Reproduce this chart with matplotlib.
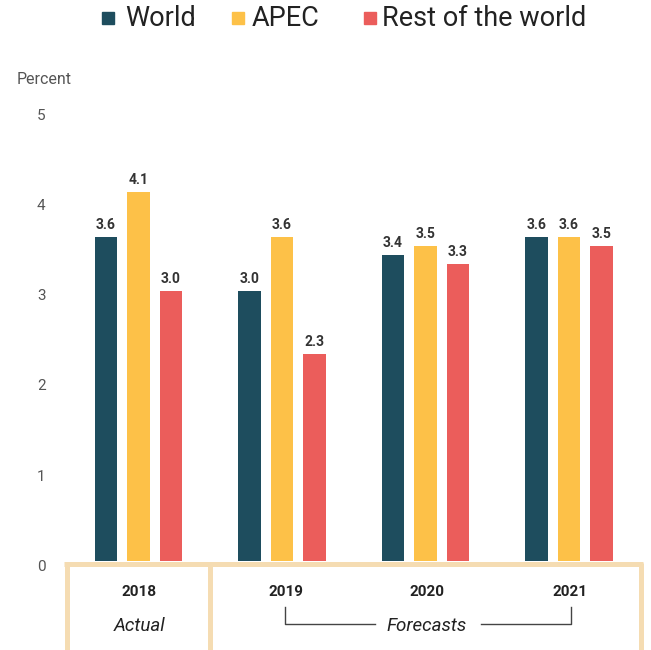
import numpy as np
import matplotlib
matplotlib.use("Agg")
import matplotlib.pyplot as plt
from matplotlib.patches import Rectangle
from matplotlib.transforms import ScaledTranslation

plt.rcParams['font.family'] = ['Roboto', 'DejaVu Sans']

years = ['2018', '2019', '2020', '2021']
series = ['World', 'APEC', 'Rest of the world']
world = [3.6, 3.0, 3.4, 3.6]
apec = [4.1, 3.6, 3.5, 3.6]
rest = [3.0, 2.3, 3.3, 3.5]
colors = ['#1E4D5E', '#FDC148', '#EB5D5B']

W, H = 651, 650
fig = plt.figure(figsize=(W / 100, H / 100), dpi=100)

def fx(px): return px / W
def fy(py): return (H - py) / H

# axes: y 0 at px 561.4, 5 at px 110.4; group centres 138.5 + 143.5*i
y0, y5 = 561.4, 110.4
ax = fig.add_axes([fx(65), fy(y0), fx(640) - fx(65), fy(y5) - fy(y0)])
ax.set_xlim((65 - 138.5) / 143.5, (640 - 138.5) / 143.5)
ax.set_ylim(0, 5)
ppu = (y0 - y5) / 5

x = np.arange(len(years))
bw = 0.157
off = 0.2265
for i, (vals, c) in enumerate(zip([world, apec, rest], colors)):
    xs = x + (i - 1) * off
    ax.bar(xs, vals, width=bw, color=c, zorder=2)
    for xi, v in zip(xs, vals):
        ax.text(xi, v + 12 / ppu, '%.1f' % v, ha='center', va='center',
                fontsize=10, fontweight='bold', color='#333333')

for s in ax.spines.values():
    s.set_visible(False)
ax.set_xticks([])
ax.set_yticks([0, 1, 2, 3, 4, 5])
ax.tick_params(axis='y', length=0, pad=14, labelsize=11, labelcolor='#555555')
shift = ScaledTranslation(0, -4 / 100, fig.dpi_scale_trans)
for lab in ax.get_yticklabels():
    lab.set_transform(lab.get_transform() + shift)

# overlay in pixel coords for the bottom frame, labels and legend
ov = fig.add_axes([0, 0, 1, 1])
ov.set_xlim(0, W)
ov.set_ylim(H, 0)
ov.axis('off')
ov.patch.set_alpha(0)

tan = '#F5DCB2'
lw = 3.6
for xp in [66.5, 209.5, 640.5]:
    ov.plot([xp, xp], [563, 652], color=tan, lw=lw, solid_capstyle='butt')
ov.plot([64, 643], [563.5, 563.5], color=tan, lw=lw, solid_capstyle='butt')

year_px = [139, 286, 427, 570]
for yp, lab in zip(year_px, years):
    ov.text(yp, 592, lab, ha='center', va='center', fontsize=11,
            fontweight='bold', color='#222222')
ov.text(139.5, 626, 'Actual', ha='center', va='center', fontsize=13.5,
        fontstyle='italic', color='#222222')
ov.text(427, 626, 'Forecasts', ha='center', va='center', fontsize=13.5,
        fontstyle='italic', color='#222222')
ov.plot([285, 285, 375], [607, 624, 624], color='#444444', lw=1)
ov.plot([481, 571, 571], [624, 624, 607], color='#444444', lw=1)

ov.text(17, 80, 'Percent', ha='left', va='center', fontsize=11.5, color='#555555')

# legend
leg_items = [(102, 125), (232, 252), (364, 382)]
for (mx, tx), lab, c in zip(leg_items, series, colors):
    ov.add_patch(Rectangle((mx, 12), 12, 12, color=c))
    ov.text(tx, 19, lab, ha='left', va='center', fontsize=19.5, color='#222222')

fig.savefig('out.png', dpi=100)
